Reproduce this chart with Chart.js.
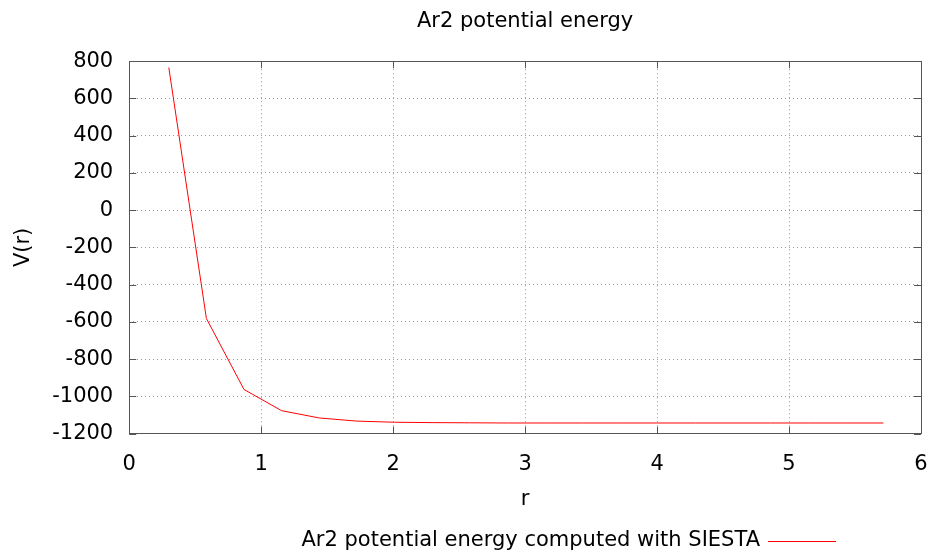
<!DOCTYPE html>
<html>
<head>
<meta charset="utf-8">
<script src="https://cdn.jsdelivr.net/npm/chart.js@4/dist/chart.umd.min.js"></script>
<style>
  html, body { margin: 0; padding: 0; background: #fff; }
  #wrap { width: 935px; height: 555px; }
</style>
</head>
<body>
<div id="wrap"><canvas id="potentialChart" width="935" height="555"></canvas></div>
<script>
// distances r and energies V(r)
const rValues = [0.3, 0.585, 0.87, 1.155, 1.44, 1.725, 2.01, 2.295, 2.58, 2.865,
                 3.15, 3.435, 3.72, 4.005, 4.29, 4.575, 4.86, 5.145, 5.43, 5.715];
const vValues = [766, -582, -963, -1077, -1116, -1133, -1139, -1141, -1142, -1143,
                 -1143, -1143, -1143, -1143, -1143, -1143, -1143, -1143, -1143, -1143];
const xTicks = [0, 1, 2, 3, 4, 5, 6];
const yTicks = [-1200, -1000, -800, -600, -400, -200, 0, 200, 400, 600, 800];

const FONT = 'DejaVu Sans';
const SIZE = 21;

// gnuplot style frame with inward tick marks on all four sides
const framePlugin = {
    id: 'frame',
    afterDraw(chart) {
        const ctx = chart.ctx;
        const a = chart.chartArea;
        const xs = chart.scales.x, ys = chart.scales.y;
        ctx.save();
        ctx.strokeStyle = '#555';
        ctx.lineWidth = 1;
        ctx.strokeRect(Math.round(a.left) + 0.5, Math.round(a.top) + 0.5,
            Math.round(a.right - a.left), Math.round(a.bottom - a.top));
        ctx.beginPath();
        xTicks.forEach(v => {
            const px = Math.round(xs.getPixelForValue(v)) + 0.5;
            ctx.moveTo(px, a.bottom); ctx.lineTo(px, a.bottom - 7);
            ctx.moveTo(px, a.top); ctx.lineTo(px, a.top + 7);
        });
        yTicks.forEach(v => {
            const py = Math.round(ys.getPixelForValue(v)) + 0.5;
            ctx.moveTo(a.left, py); ctx.lineTo(a.left + 7, py);
            ctx.moveTo(a.right, py); ctx.lineTo(a.right - 7, py);
        });
        ctx.stroke();
        ctx.restore();
    }
};

// gnuplot style key: text first, then a line sample to its right
const keyPlugin = {
    id: 'key',
    afterDraw(chart) {
        const ctx = chart.ctx;
        const ds = chart.data.datasets[0];
        const y = 541;
        ctx.save();
        ctx.font = SIZE + 'px "' + FONT + '"';
        ctx.fillStyle = '#000';
        ctx.textAlign = 'right';
        ctx.textBaseline = 'middle';
        ctx.fillText(ds.label, 760, y);
        ctx.strokeStyle = ds.borderColor;
        ctx.lineWidth = 1;
        ctx.beginPath();
        ctx.moveTo(768, y + 0.5);
        ctx.lineTo(836, y + 0.5);
        ctx.stroke();
        ctx.restore();
    }
};

const ctx = document.getElementById('potentialChart').getContext('2d');
new Chart(ctx, {
    type: 'line',
    data: {
        datasets: [{
            label: 'Ar2 potential energy computed with SIESTA',
            data: rValues.map((r, i) => ({ x: r, y: vValues[i] })),
            borderColor: 'rgb(255, 0, 0)',
            backgroundColor: 'rgb(255, 0, 0)',
            borderWidth: 1,
            pointRadius: 0,
            tension: 0
        }]
    },
    options: {
        responsive: false,
        animation: false,
        layout: { padding: { left: 0, right: 14, bottom: 43 } },
        plugins: {
            title: {
                display: true,
                fullSize: false,
                text: 'Ar2 potential energy',
                color: '#000',
                font: { family: FONT, size: SIZE, weight: 'normal' },
                padding: { top: 9, bottom: 27 }
            },
            legend: { display: false },
            tooltip: { enabled: false }
        },
        scales: {
            x: {
                type: 'linear',
                min: 0,
                max: 6,
                afterBuildTicks: s => { s.ticks = xTicks.map(v => ({ value: v })); },
                afterFit: s => { s.paddingLeft = 0; s.paddingRight = 0; },
                ticks: { color: '#000', font: { family: FONT, size: SIZE }, padding: 18, maxRotation: 0 },
                grid: { color: '#999', drawTicks: false },
                border: { display: false, dash: [1, 3] },
                title: {
                    display: true, text: 'r', color: '#000',
                    font: { family: FONT, size: SIZE },
                    padding: { top: -8, bottom: 0 }
                }
            },
            y: {
                type: 'linear',
                min: -1200,
                max: 800,
                afterBuildTicks: s => { s.ticks = yTicks.map(v => ({ value: v })); },
                ticks: {
                    color: '#000', font: { family: FONT, size: SIZE }, padding: 16,
                    callback: v => String(v)
                },
                grid: { color: '#999', drawTicks: false },
                border: { display: false, dash: [1, 3] },
                title: {
                    display: true, text: 'V(r)', color: '#000',
                    font: { family: FONT, size: SIZE },
                    padding: { top: 11, bottom: 0 }
                }
            }
        }
    },
    plugins: [framePlugin, keyPlugin]
});
</script>
</body>
</html>
